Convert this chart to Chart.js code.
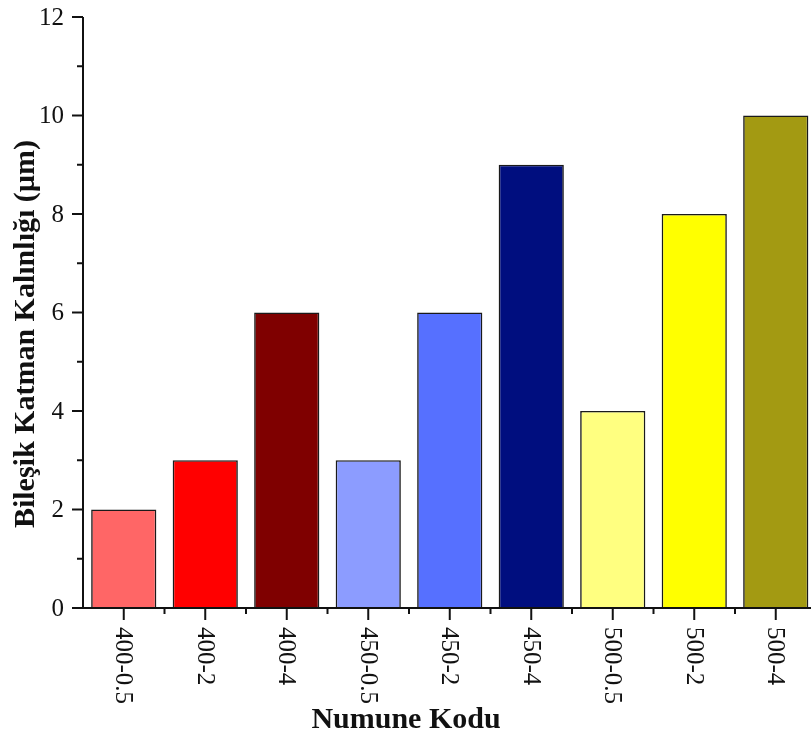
<!DOCTYPE html>
<html>
<head>
<meta charset="utf-8">
<script src="https://cdn.jsdelivr.net/npm/chart.js@4/dist/chart.umd.min.js"></script>
<style>
  html, body { margin: 0; padding: 0; background: #fff; overflow: hidden; }
  #wrap { width: 818px; height: 736px; }
</style>
</head>
<body>
<div id="wrap"><canvas id="chart_thickness"></canvas></div>
<script>
// data
var categories = ['400-0.5', '400-2', '400-4', '450-0.5', '450-2', '450-4', '500-0.5', '500-2', '500-4'];
var thickness = [2, 3, 6, 3, 6, 9, 4, 8, 10];
var barColors = ['#FF6666', '#FF0000', '#7F0000', '#8C9CFF', '#5670FF', '#000E7F', '#FFFF80', '#FFFF00', '#A39A12'];
var yTicks = [0, 2, 4, 6, 8, 10, 12];
var xTitle = 'Numune Kodu';
var yTitle = 'Bileşik Katman Kalınlığı (µm)';

var serif = "'Liberation Serif', 'Times New Roman', serif";

// axes, ticks and labels drawn by hand (origin style)
var axesPlugin = {
    id: 'originAxes',
    afterDraw: function (chart) {
        var ctx = chart.ctx;
        var area = chart.chartArea;
        var x = chart.scales.x;
        var y = chart.scales.y;
        ctx.save();
        ctx.strokeStyle = '#111';
        ctx.fillStyle = '#111';
        ctx.lineWidth = 2;

        // axis lines
        ctx.beginPath();
        ctx.moveTo(area.left, area.top);
        ctx.lineTo(area.left, area.bottom);
        ctx.lineTo(area.right + 2, area.bottom);
        ctx.stroke();

        // y ticks: major at labels, minor halfway
        for (var v = 0; v <= 12; v++) {
            var py = y.getPixelForValue(v);
            var len = (yTicks.indexOf(v) >= 0) ? 11 : 6;
            ctx.beginPath();
            ctx.moveTo(area.left - len, py);
            ctx.lineTo(area.left, py);
            ctx.stroke();
        }
        ctx.font = '25px ' + serif;
        ctx.textAlign = 'right';
        ctx.textBaseline = 'middle';
        yTicks.forEach(function (t) {
            ctx.fillText(String(t), area.left - 19, y.getPixelForValue(t) + 1);
        });

        // x ticks: major at categories, minor at boundaries
        for (var i = 0; i < categories.length; i++) {
            var cx = x.getPixelForValue(i);
            ctx.beginPath();
            ctx.moveTo(cx, area.bottom);
            ctx.lineTo(cx, area.bottom + 12);
            ctx.stroke();
            var bx = x.getPixelForValue(i - 0.5);
            if (i > 0) {
                ctx.beginPath();
                ctx.moveTo(bx, area.bottom);
                ctx.lineTo(bx, area.bottom + 6);
                ctx.stroke();
            }
        }
        ctx.font = '25px ' + serif;
        ctx.textAlign = 'left';
        ctx.textBaseline = 'middle';
        categories.forEach(function (c, i) {
            ctx.save();
            ctx.translate(x.getPixelForValue(i), area.bottom + 19);
            ctx.rotate(Math.PI / 2);
            ctx.fillText(c, 0, 1);
            ctx.restore();
        });

        // axis titles
        ctx.font = 'bold 30px ' + serif;
        ctx.textAlign = 'center';
        ctx.textBaseline = 'middle';
        ctx.fillText(xTitle, 406, 720);
        ctx.save();
        ctx.translate(26, 334);
        ctx.rotate(-Math.PI / 2);
        ctx.fillText(yTitle, 0, 0);
        ctx.restore();
        ctx.restore();
    }
};

new Chart(document.getElementById('chart_thickness'), {
    type: 'bar',
    data: {
        labels: categories,
        datasets: [{
            data: thickness,
            backgroundColor: barColors,
            borderColor: '#1a1a1a',
            borderWidth: 1.6,
            barPercentage: 0.8,
            categoryPercentage: 1
        }]
    },
    options: {
        responsive: true,
        maintainAspectRatio: false,
        animation: false,
        layout: {
            padding: { left: 83, top: 17, right: 1.5, bottom: 128 }
        },
        plugins: {
            legend: { display: false },
            tooltip: { enabled: false }
        },
        scales: {
            x: { display: false, offset: true },
            y: { display: false, min: 0, max: 12 }
        }
    },
    plugins: [axesPlugin]
});
</script>
</body>
</html>
